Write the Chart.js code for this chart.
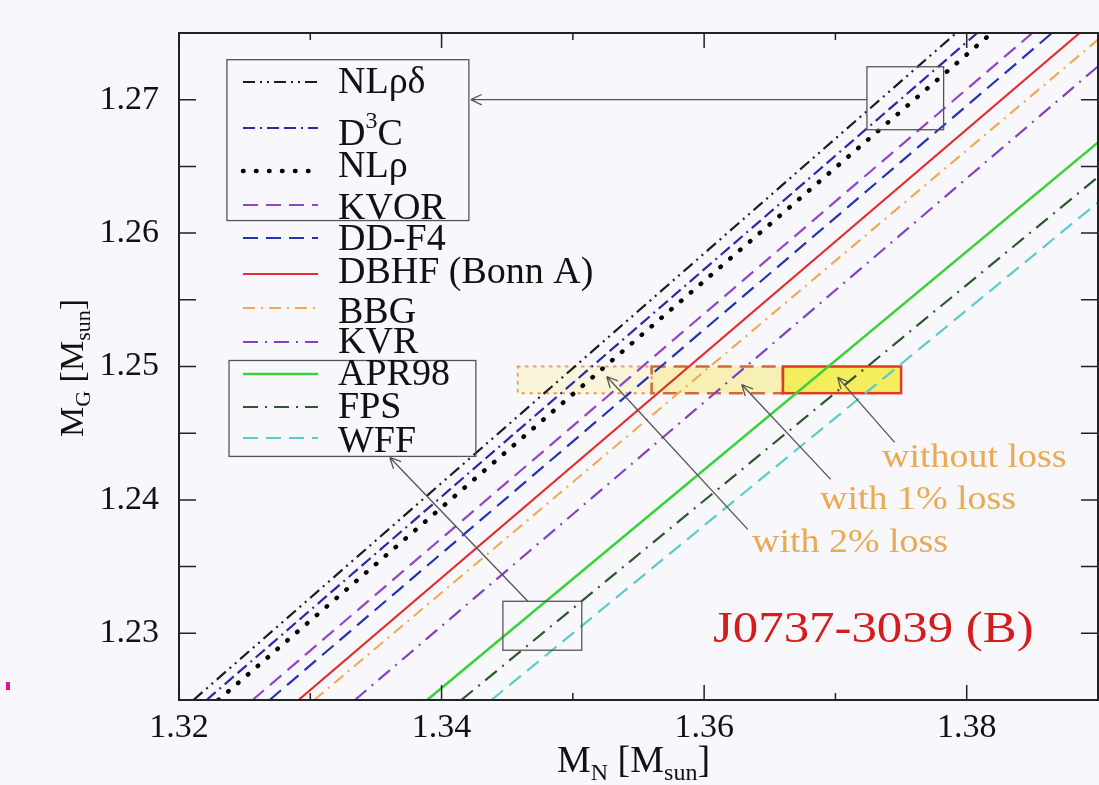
<!DOCTYPE html>
<html>
<head>
<meta charset="utf-8">
<script src="https://cdn.jsdelivr.net/npm/chart.js@4.4.1/dist/chart.umd.min.js"></script>
<style>
  html, body { margin: 0; padding: 0; background: #f8f8fc; }
  #wrap { width: 1099px; height: 785px; }
</style>
</head>
<body>
<div id="wrap"><canvas id="massChart" width="1099" height="785"></canvas></div>
<script>
// EOS curves M_G(M_N): each drawn from its lower end to where it leaves the frame
const models = ['NLρδ', 'D^3C', 'NLρ', 'KVOR', 'DD-F4', 'DBHF (Bonn A)', 'BBG', 'KVR', 'APR98', 'FPS', 'WFF'];
const mnLow  = [1.3211, 1.3221, 1.3230, 1.3256, 1.3269, 1.3291, 1.3303, 1.3334, 1.3389, 1.3415, 1.3438];
const mgLow  = [1.225, 1.225, 1.225, 1.225, 1.225, 1.225, 1.225, 1.225, 1.225, 1.225, 1.225];
const mnHigh = [1.3792, 1.3808, 1.3819, 1.3850, 1.3865, 1.3886, 1.3900, 1.3900, 1.3900, 1.3900, 1.3900];
const mgHigh = [1.275, 1.275, 1.275, 1.275, 1.275, 1.275, 1.2745, 1.2725, 1.2668, 1.2642, 1.2623];

const mnTicks = [1.32, 1.34, 1.36, 1.38];
const mnMinor = [1.33, 1.35, 1.37];
const mgTicks = [1.23, 1.24, 1.25, 1.26, 1.27];
const mgMinor = [1.235, 1.245, 1.255, 1.265];

// J0737-3039 (B) constraint boxes
const lossLabels = ['with 2% loss', 'with 1% loss', 'without loss'];
const lossMnMin = [1.3458, 1.3560, 1.3660];
const lossMnMax = [1.3560, 1.3660, 1.3750];
const lossMgMin = [1.248, 1.248, 1.248];
const lossMgMax = [1.250, 1.250, 1.250];

// styles
const lineColors = ['#1c1c1c', '#2a2aa8', '#000000', '#9444c8', '#2234b4', '#e22e2e', '#f0aa50', '#8440c4', '#3ad23a', '#2c582c', '#5ccacc'];
const lineDashes = [[12, 5, 2, 5, 2, 5], [12, 5, 2, 5, 12, 5], [0.5, 12.5], [15, 8], [15, 8], [], [12, 6, 2, 6], [15, 7, 2, 7], [], [15, 7, 2, 7], [15, 8]];
const lineWidths = [2.2, 2.2, 4.5, 2.2, 2.2, 2.2, 2.2, 2.2, 2.6, 2.2, 2.2];
const boxFills = ['#f8f5da', '#f6f0b4', '#f4ed5c'];
const boxStrokes = ['#e3a262', '#d06a3a', '#e03a22'];
const boxDashes = [[2, 6], [14, 8], []];

const SERIF = '"Liberation Serif", "Times New Roman", serif';

// legend layout (px from the chart area's left/top)
const legendRowY = [49, 95, 138, 172, 205, 241, 275, 309, 341, 374, 405];
const legendTextY = [60, 112, 144, 186, 217, 250, 290, 320, 352, 385, 419];

const datasets = models.map(function (name, i) {
    return {
        label: name,
        data: [{ x: mnLow[i], y: mgLow[i] }, { x: mnHigh[i], y: mgHigh[i] }],
        borderColor: lineColors[i],
        borderDash: lineDashes[i],
        borderWidth: lineWidths[i],
        borderCapStyle: i === 2 ? 'round' : 'butt',
        pointRadius: 0,
        fill: false,
        tension: 0
    };
});

function px(chart, x, y) {
    return [chart.scales.x.getPixelForValue(x), chart.scales.y.getPixelForValue(y)];
}

function rect(ctx, chart, x0, y0, x1, y1) {
    const a = px(chart, x0, y0), b = px(chart, x1, y1);
    ctx.strokeRect(a[0], b[1], b[0] - a[0], a[1] - b[1]);
}

function arrow(ctx, chart, x0, y0, x1, y1) {
    const a = px(chart, x0, y0), b = px(chart, x1, y1);
    ctx.beginPath();
    ctx.moveTo(a[0], a[1]);
    ctx.lineTo(b[0], b[1]);
    const ang = Math.atan2(a[1] - b[1], a[0] - b[0]);
    [-0.45, 0.45].forEach(function (d) {
        ctx.moveTo(b[0], b[1]);
        ctx.lineTo(b[0] + 12 * Math.cos(ang + d), b[1] + 12 * Math.sin(ang + d));
    });
    ctx.stroke();
}

// text with sub/superscripts: parts = [[text, size, dy]]
function rich(ctx, parts, x, y) {
    parts.forEach(function (p) {
        ctx.font = p[1] + 'px ' + SERIF;
        ctx.fillText(p[0], x, y + p[2]);
        x += ctx.measureText(p[0]).width;
    });
}

function stretched(ctx, text, x, y, size, sx, color) {
    ctx.save();
    ctx.font = size + 'px ' + SERIF;
    ctx.fillStyle = color;
    ctx.translate(x, y);
    ctx.scale(sx, 1);
    ctx.fillText(text, 0, 0);
    ctx.restore();
}

const decorations = {
    id: 'decorations',
    beforeDraw(chart) {
        const ctx = chart.ctx;
        ctx.save();
        ctx.fillStyle = '#f8f8fc';
        ctx.fillRect(0, 0, chart.width, chart.height);
        ctx.fillStyle = '#e0109c';
        ctx.fillRect(6, 682, 4, 8);
        ctx.restore();
    },
    beforeDatasetsDraw(chart) {
        const ctx = chart.ctx;
        ctx.save();
        for (let i = 0; i < lossLabels.length; i++) {
            const a = px(chart, lossMnMin[i], lossMgMin[i]), b = px(chart, lossMnMax[i], lossMgMax[i]);
            ctx.fillStyle = boxFills[i];
            ctx.fillRect(a[0], b[1], b[0] - a[0], a[1] - b[1]);
        }
        for (let i = 0; i < lossLabels.length; i++) {
            ctx.strokeStyle = boxStrokes[i];
            ctx.lineWidth = i === 0 ? 2 : 2.5;
            ctx.lineCap = i === 0 ? 'round' : 'butt';
            ctx.setLineDash(boxDashes[i]);
            rect(ctx, chart, lossMnMin[i], lossMgMin[i], lossMnMax[i], lossMgMax[i]);
        }
        ctx.restore();
    },
    afterDatasetsDraw(chart) {
        const ctx = chart.ctx, area = chart.chartArea;
        const sx = chart.scales.x, sy = chart.scales.y;
        ctx.save();

        // frame and inward ticks
        ctx.strokeStyle = '#222';
        ctx.lineWidth = 2;
        ctx.setLineDash([]);
        ctx.strokeRect(area.left, area.top, area.right - area.left, area.bottom - area.top);
        ctx.lineWidth = 1.5;
        ctx.beginPath();
        mnTicks.concat(mnMinor).forEach(function (v) {
            const x = sx.getPixelForValue(v), len = mnTicks.indexOf(v) >= 0 ? 15 : 7;
            ctx.moveTo(x, area.bottom); ctx.lineTo(x, area.bottom - len);
            ctx.moveTo(x, area.top); ctx.lineTo(x, area.top + len);
        });
        mgTicks.concat(mgMinor).forEach(function (v) {
            const y = sy.getPixelForValue(v);
            ctx.moveTo(area.left, y); ctx.lineTo(area.left + 17, y);
            ctx.moveTo(area.right, y); ctx.lineTo(area.right - 17, y);
        });
        ctx.stroke();

        // zoom boxes and arrows
        ctx.strokeStyle = '#555';
        ctx.lineWidth = 1.3;
        rect(ctx, chart, 1.32365, 1.26094, 1.34208, 1.27300);
        rect(ctx, chart, 1.32381, 1.24326, 1.34261, 1.25045);
        rect(ctx, chart, 1.37240, 1.26775, 1.37824, 1.27247);
        rect(ctx, chart, 1.34467, 1.22873, 1.35068, 1.23240);
        arrow(ctx, chart, 1.37240, 1.27000, 1.34223, 1.27000);
        arrow(ctx, chart, 1.34657, 1.23240, 1.33606, 1.24318);
        arrow(ctx, chart, 1.36332, 1.23779, 1.35258, 1.24925);
        arrow(ctx, chart, 1.36964, 1.24154, 1.36286, 1.24865);
        arrow(ctx, chart, 1.37451, 1.24431, 1.37017, 1.24918);

        // legend
        for (let i = 0; i < models.length; i++) {
            const y = area.top + legendRowY[i];
            ctx.strokeStyle = lineColors[i];
            ctx.lineWidth = lineWidths[i];
            ctx.lineCap = i === 2 ? 'round' : 'butt';
            ctx.setLineDash(lineDashes[i]);
            ctx.beginPath();
            ctx.moveTo(area.left + 64, y);
            ctx.lineTo(area.left + 139, y);
            ctx.stroke();
            ctx.fillStyle = '#111';
            const parts = models[i].split('^');
            const rp = [[parts[0], 38, 0]];
            if (parts.length > 1) { rp.push([parts[1][0], 24, -17]); rp.push([parts[1].slice(1), 38, 0]); }
            rich(ctx, rp, area.left + 159, area.top + legendTextY[i]);
        }
        ctx.setLineDash([]);

        // annotations
        const labelX = [752, 820, 882], labelY = [552, 509, 467];
        for (let i = 0; i < lossLabels.length; i++) {
            stretched(ctx, lossLabels[i], labelX[i], labelY[i], 33, 1.15, '#e8aa52');
        }
        stretched(ctx, 'J0737-3039 (B)', 713, 642, 45, 1.13, '#d41c1c');

        // axis titles
        ctx.fillStyle = '#111';
        rich(ctx, [['M', 38, 0], ['N', 24, 8], [' [M', 38, 0], ['sun', 24, 8], [']', 38, 0]], 557, 772);
        ctx.translate(83, 437);
        ctx.rotate(-Math.PI / 2);
        rich(ctx, [['M', 34, 0], ['G', 22, 7], [' [M', 34, 0], ['sun', 22, 7], [']', 34, 0]], 0, 0);
        ctx.restore();
    }
};

const ctx = document.getElementById('massChart').getContext('2d');
const massChart = new Chart(ctx, {
    type: 'line',
    data: { datasets: datasets },
    plugins: [decorations],
    options: {
        responsive: false,
        animation: false,
        devicePixelRatio: 1,
        layout: { padding: { top: 33, right: 1, left: 0, bottom: 0 } },
        plugins: { legend: { display: false }, tooltip: { enabled: false } },
        scales: {
            x: {
                type: 'linear',
                min: 1.32,
                max: 1.39,
                afterBuildTicks: function (s) { s.ticks = mnTicks.map(function (v) { return { value: v }; }); },
                afterFit: function (s) { s.height = 85; },
                grid: { display: false },
                border: { display: false },
                ticks: {
                    autoSkip: false,
                    maxRotation: 0,
                    padding: 0,
                    color: '#111',
                    font: { family: SERIF, size: 34 },
                    callback: function (v) { return v.toFixed(2); }
                }
            },
            y: {
                type: 'linear',
                min: 1.225,
                max: 1.275,
                afterBuildTicks: function (s) { s.ticks = mgTicks.map(function (v) { return { value: v }; }); },
                afterFit: function (s) { s.width = 179; },
                grid: { display: false },
                border: { display: false },
                ticks: {
                    padding: 12,
                    color: '#111',
                    font: { family: SERIF, size: 34 },
                    callback: function (v) { return v.toFixed(2); }
                }
            }
        }
    }
});
</script>
</body>
</html>
